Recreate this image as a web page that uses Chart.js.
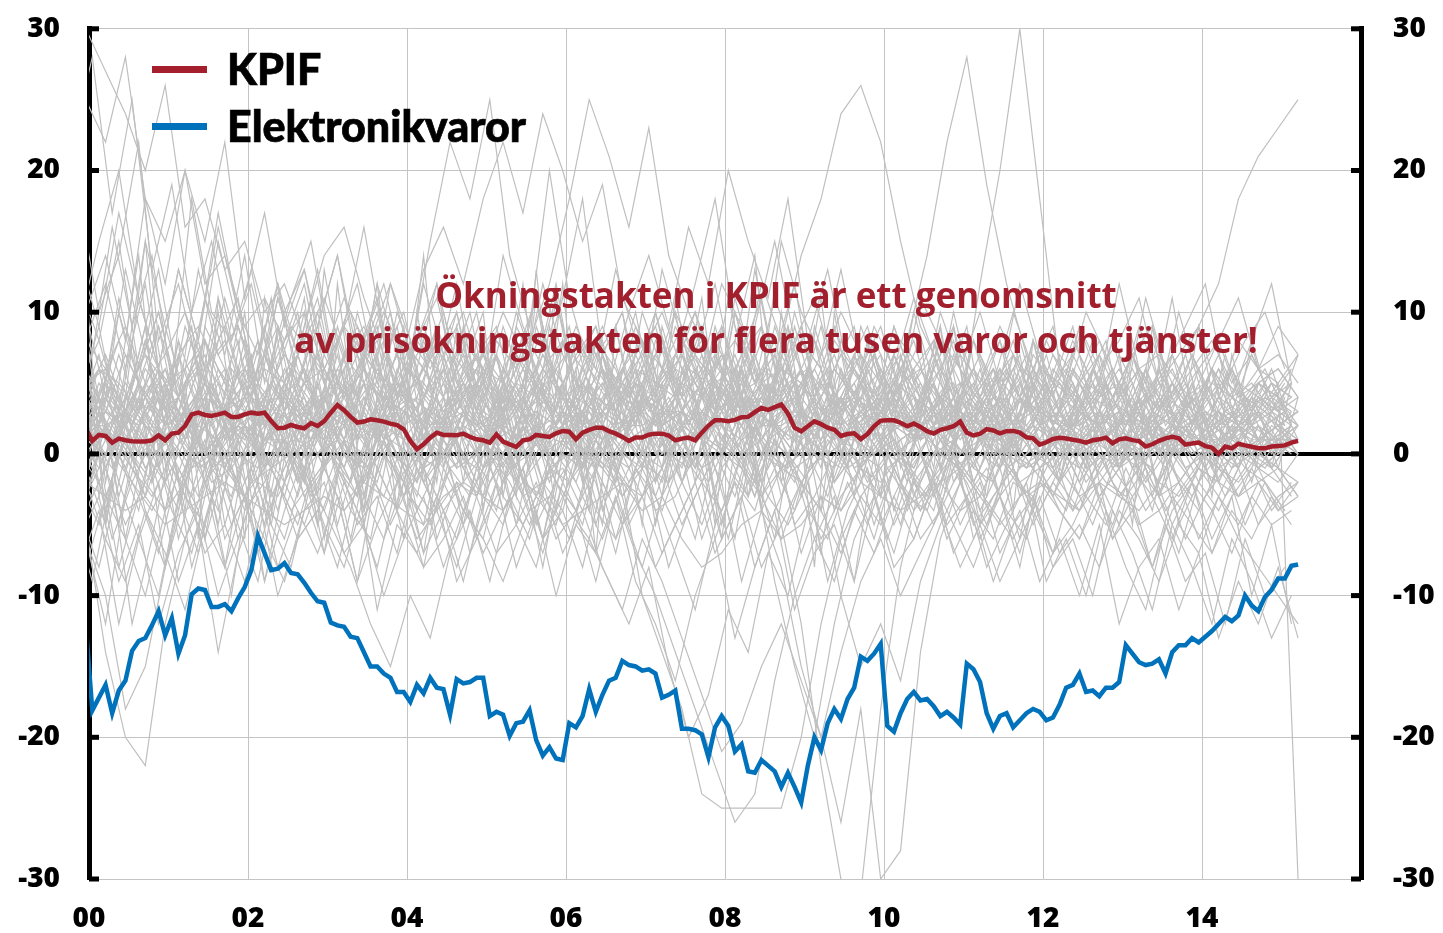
<!DOCTYPE html>
<html>
<head>
<meta charset="utf-8">
<script src="https://cdn.jsdelivr.net/npm/chart.js@4.4.1/dist/chart.umd.min.js"></script>
<style>
html,body{margin:0;padding:0;background:#fff;}
#wrap{position:relative;width:1443px;height:933px;overflow:hidden;}
#c{position:absolute;left:0;top:-20px;}
.sw{position:absolute;left:152px;width:55px;height:7px;}
.lt{position:absolute;left:227px;font-family:'Lato',sans-serif;font-weight:900;font-size:43px;line-height:43px;color:#000;white-space:nowrap;-webkit-text-stroke:0.7px #000;}
#note{position:absolute;left:276px;width:1000px;top:272px;text-align:center;font-family:'Open Sans',sans-serif;font-weight:bold;font-size:35px;line-height:45px;color:#A21F2D;white-space:nowrap;}
</style>
</head>
<body>
<div id="wrap">
<canvas id="c" width="1443" height="953"></canvas>
<div class="sw" style="top:66px;background:#A51E2B"></div><div class="lt" style="top:47px">KPIF</div>
<div class="sw" style="top:123px;background:#0072BC"></div><div class="lt" style="top:104px">Elektronikvaror</div>
<div id="note">Ökningstakten i KPIF är ett genomsnitt<br>av prisökningstakten för flera tusen varor och tjänster!</div>
</div>
<script>
// Monthly series, first value = Dec 1999, last = Mar 2015
const seriesStartMonth = -1;
const kpif = [1.8,
0.92,1.34,1.27,0.80,1.08,0.96,0.9,0.87,0.87,0.96,
1.31,0.96,1.43,1.50,1.97,2.79,2.91,2.75,2.68,2.79,
2.91,2.61,2.61,2.79,2.91,2.84,2.91,2.32,1.81,1.85,
2.04,1.90,1.81,2.18,1.97,2.32,2.91,3.45,3.08,2.61,
2.21,2.28,2.44,2.37,2.28,2.14,2.04,1.74,0.92,0.33,
0.68,1.15,1.50,1.34,1.34,1.31,1.43,1.20,1.03,0.96,
0.8,1.38,0.87,0.67,0.49,0.96,1.03,1.34,1.27,1.20,
1.45,1.62,1.57,1.03,1.50,1.7,1.85,1.85,1.6,1.43,
1.2,0.92,1.15,1.16,1.35,1.43,1.43,1.3,0.96,1.08,
1.15,0.96,1.5,2.0,2.37,2.37,2.3,2.4,2.58,2.61,
2.95,3.24,3.1,3.3,3.48,2.85,1.85,1.6,1.95,2.3,
2.1,1.85,1.7,1.27,1.4,1.45,1.05,1.4,1.95,2.35,
2.37,2.37,2.2,1.95,2.14,1.9,1.6,1.43,1.7,1.81,
1.95,2.28,1.5,1.3,1.42,1.75,1.65,1.45,1.6,1.62,
1.5,1.17,1.1,0.65,0.82,1.05,1.14,1.08,1.0,0.92,
0.8,0.96,1.03,1.15,0.75,1.03,1.1,0.97,0.9,0.52,
0.68,0.92,1.1,1.2,1.1,0.65,0.74,0.8,0.55,0.45,
0.0,0.52,0.4,0.72,0.6,0.5,0.4,0.4,0.52,0.56,
0.6,0.8,0.92];
const elektronik = [-12,
-18.1,-17.2,-16.3,-18.3,-16.7,-16.0,-13.9,-13.2,-13.0,-12.1,
-11.1,-12.8,-11.6,-14.1,-12.8,-9.9,-9.5,-9.6,-10.8,-10.8,
-10.6,-11.1,-10.2,-9.4,-8.2,-5.8,-7.0,-8.2,-8.1,-7.7,
-8.4,-8.5,-9.1,-9.8,-10.4,-10.5,-11.9,-12.1,-12.2,-12.9,
-13.0,-14.0,-15.0,-15.0,-15.5,-15.8,-16.8,-16.8,-17.5,-16.3,
-16.9,-15.8,-16.5,-16.6,-18.4,-15.9,-16.2,-16.1,-15.8,-15.8,
-18.5,-18.2,-18.4,-19.9,-19.0,-18.9,-18.1,-20.2,-21.3,-20.7,
-21.5,-21.6,-19.0,-19.3,-18.5,-16.6,-18.2,-17.0,-16.0,-15.8,
-14.6,-14.9,-15.0,-15.3,-15.2,-15.5,-17.2,-17.0,-16.7,-19.4,
-19.4,-19.5,-19.8,-21.4,-19.3,-18.5,-19.2,-21.0,-20.5,-22.4,
-22.5,-21.6,-22.0,-22.4,-23.5,-22.5,-23.5,-24.6,-22.0,-20.0,
-20.9,-19.0,-18.0,-18.7,-17.3,-16.5,-14.3,-14.6,-14.1,-13.4,
-19.2,-19.6,-18.3,-17.3,-16.8,-17.4,-17.3,-17.8,-18.5,-18.2,
-18.6,-19.1,-14.8,-15.2,-16.1,-18.3,-19.4,-18.5,-18.3,-19.3,
-18.8,-18.3,-18.0,-18.2,-18.8,-18.6,-17.7,-16.5,-16.3,-15.5,
-16.8,-16.7,-17.1,-16.5,-16.5,-16.1,-13.5,-14.1,-14.7,-14.9,
-14.8,-14.5,-15.5,-14.0,-13.5,-13.5,-13.0,-13.3,-12.9,-12.5,
-12.0,-11.5,-11.8,-11.4,-10.0,-10.7,-11.1,-10.1,-9.6,-8.8,
-8.8,-7.9,-7.8];

// Individual goods and services, sampled every third month
const greyStep = 3;
const greyStartA = -1; // Dec 1999
const greySeriesA = [
[3,1,4,2,0,3,5,2,1,4,2,3,0,2,4,1,3,2,5,1,2,0,3,4,1,2,3,1,4,2,3,5,2,4,1,3,2,0,2,3,1,2,4,1,3,2,0,1,3,2,1,2,0,3,1,2,1,0,2,3,1,2],
[-2,4,1,-3,5,0,2,-1,6,3,-2,1,4,0,-3,2,5,1,-1,3,0,4,-2,1,3,-1,2,0,5,1,-2,3,1,4,0,-1,2,6,1,-2,3,0,2,-1,4,1,-3,2,0,3,1,-1,2,4,0,1,-2,3,1,2,0,1],
[8,6,9,5,7,10,6,8,4,7,5,8,6,3,7,5,4,6,8,5,3,6,4,7,5,2,6,4,3,5,7,4,6,3,5,4,2,5,3,4,6,3,2,4,5,3,1,4,2,3,5,2,3,1,4,2,3,1,2,4,3,2],
[-4,-1,-5,-2,0,-3,-6,-1,-3,0,-2,-5,-1,-4,-2,1,-3,-1,-4,-2,0,-3,-5,-2,-1,-4,0,-2,-3,-1,-5,-2,-4,0,-3,-1,-2,-6,-3,-1,-2,0,-4,-2,-1,-3,0,-2,-4,-1,-3,-2,0,-1,-3,-2,-4,-1,-2,0,-1,-3],
[9,-2,6,12,3,-4,8,2,10,-1,5,11,0,7,-3,4,9,1,6,-2,8,3,12,0,5,-1,7,10,2,-3,6,1,9,4,-2,8,3,11,0,5,7,-1,4,9,2,6,0,8,3,-2,5,7,1,4,8,0,3,6,2,5,4,1],
[1,0,2,-1,1,3,0,-1,2,1,0,2,-1,1,0,3,1,-1,0,2,1,-2,0,1,2,0,-1,1,3,0,1,-1,2,0,1,-1,0,2,1,0,-1,1,2,0,-1,1,0,2,-1,0,1,0,-1,1,2,0,1,-1,0,1,2,0],
[6,3,7,4,2,5,8,4,3,6,5,2,7,4,6,3,5,8,4,2,6,5,3,7,4,5,2,6,8,3,5,4,7,3,5,6,2,4,7,5,3,6,4,2,5,3,6,4,3,5,2,4,6,3,5,4,2,3,5,4,3,4],
[-8,-3,-6,-10,-4,-2,-7,-5,-9,-3,-6,-1,-5,-8,-3,-6,-2,-7,-4,-9,-3,-5,-1,-6,-4,-8,-2,-5,-3,-7,-4,-1,-6,-3,-8,-5,-2,-4,-7,-3,-5,-2,-6,-4,-1,-5,-3,-7,-2,-4,-6,-3,-1,-5,-4,-2,-6,-3,-5,-2,-4,-3],
[12,-5,4,15,1,-3,9,6,-6,11,3,-2,13,5,-4,8,2,14,-1,6,10,-3,5,1,12,-2,7,3,-5,9,4,11,0,6,-4,10,2,-1,8,5,-3,7,1,9,-2,4,6,0,8,-1,5,3,7,-2,6,1,9,2,-1,5,3,7],
[2,2,3,2,1,2,3,3,2,1,1,2,2,3,2,2,1,1,2,3,2,2,1,2,3,2,1,2,2,3,3,2,2,1,2,2,3,2,1,1,2,2,1,2,2,1,1,2,1,1,0,1,1,2,1,0,1,1,2,1,1,1],
[25,22,28,18,15,20,12,14,9,11,8,10,6,9,7,5,8,6,4,7,5,3,6,4,2,5,3,4,6,2,3,5,1,4,2,3,5,2,1,3,4,2,3,1,2,4,2,1,3,2,1,3,2,0,2,1,3,1,2,0,1,2],
[30,27,24,20,26,16,18,13,15,10,12,8,11,7,9,5,8,6,10,4,7,5,3,6,8,4,2,5,3,6,4,2,5,3,1,4,6,2,3,5,1,4,2,3,0,2,4,1,3,2,4,1,2,3,0,2,1,3,2,1,2,3],
[-6,-12,-3,2,-8,-1,4,-5,0,-9,-2,3,-6,1,-4,5,-1,-7,2,0,-3,4,-2,-6,1,3,-4,0,-1,5,-2,2,-5,0,3,-3,1,-7,2,-1,4,-2,0,-4,2,-1,3,-3,0,1,-2,2,-1,3,-3,0,2,-2,1,-1,0,2],
[1,6,3,8,2,5,7,1,4,9,3,6,2,7,5,1,8,4,2,6,7,3,5,9,2,4,6,1,5,8,3,7,4,2,6,5,9,3,4,7,2,5,6,3,8,4,2,6,5,3,7,4,5,2,6,3,4,7,3,5,6,4],
[0,2,-1,3,1,-2,2,0,-3,1,2,-1,3,0,-2,1,2,-1,0,3,1,-2,2,0,1,-1,3,2,-1,0,2,1,-2,3,0,-5,-12,-22,-30,-31,-18,-8,-2,1,0,2,-1,1,3,0,-1,2,1,0,-2,1,3,0,2,-1,1,0],
[3,5,2,6,4,1,5,3,7,2,4,6,3,1,5,8,2,4,6,3,5,2,7,4,1,6,3,5,8,2,4,6,3,5,2,7,4,9,3,5,2,6,4,8,3,12,20,30,18,6,3,5,2,6,4,1,3,5,2,4,3,2],
[2,4,1,3,5,2,0,3,4,1,2,5,3,0,2,4,1,3,2,5,1,3,0,2,4,1,3,5,2,0,3,1,4,2,5,3,1,2,4,0,3,2,1,4,2,3,0,1,3,2,4,1,2,5,3,6,9,12,18,21,23,25],
[1,3,2,4,1,2,5,3,0,2,4,1,3,2,5,0,2,3,1,4,2,0,3,1,2,4,1,3,0,2,3,1,4,2,0,3,2,1,4,2,0,3,1,2,4,1,3,0,2,1,3,2,0,1,2,3,1,4,2,3,5,-30],
[-3,2,-6,1,-4,3,-2,-8,0,-5,2,-3,-7,1,-4,0,-6,2,-2,-5,1,-4,-1,-8,0,-3,-6,-2,-10,-14,-18,-24,-25,-25,-25,-25,-20,-12,-6,-3,-1,-5,0,-3,2,-4,-1,-6,1,-2,-4,0,-3,-1,2,-5,-2,0,-3,-1,-4,-2],
[-5,-14,-20,-22,-12,-6,-2,1,3,-1,2,4,0,3,-2,1,5,2,0,3,-1,2,4,1,-2,3,0,2,5,1,-1,3,2,0,4,1,-3,2,0,3,1,-2,2,4,0,1,3,-1,2,0,3,1,-1,2,0,3,1,2,0,1,2,0],
[4,7,3,8,5,2,6,9,4,7,3,5,8,4,6,10,7,13,16,12,18,22,17,24,20,15,19,11,8,6,9,5,7,4,8,3,6,2,5,7,4,6,3,8,5,2,6,4,7,3,5,2,4,6,3,5,2,4,3,5,4,3],
[2,5,3,1,4,6,2,3,5,1,4,2,6,3,1,5,2,4,7,3,1,5,2,6,4,3,7,2,5,8,4,6,9,5,12,8,14,18,24,26,22,15,9,6,4,7,3,5,2,6,4,1,5,3,2,4,6,2,3,1,4,2],
[-2,-6,-9,-4,-7,-11,-5,-8,-3,-6,-9,-4,-2,-7,-5,-10,-6,-3,-8,-4,-6,-9,-5,-2,-7,-4,-8,-11,-6,-9,-13,-17,-21,-19,-15,-12,-16,-20,-14,-9,-6,-10,-7,-4,-8,-5,-9,-6,-3,-7,-5,-8,-4,-6,-9,-5,-7,-3,-6,-8,-10,-12],
[10,4,13,7,2,9,5,11,6,3,8,12,5,9,2,7,10,4,8,6,3,9,5,12,7,4,8,2,10,6,5,9,3,7,11,4,8,6,2,9,5,7,3,10,6,4,8,2,6,5,3,7,4,9,5,2,6,8,4,6,5,7],
[2,-1,3,0,-2,1,4,-1,2,0,-3,2,1,-1,3,0,-2,2,4,-1,1,3,-2,0,2,-1,1,3,0,-2,2,4,0,-1,3,1,-2,0,2,-1,1,3,0,-2,2,1,-1,3,0,2,-1,1,2,0,-2,1,3,0,-1,2,1,0],
[1,3,2,4,6,3,5,2,4,7,3,9,14,16,11,7,4,2,5,3,6,4,2,5,3,1,4,6,3,2,5,3,4,6,2,5,3,1,4,2,6,3,5,2,4,3,1,5,2,4,3,2,4,1,3,5,2,3,1,4,2,3],
[-1,-5,2,-4,-8,-2,1,-6,-3,-9,-4,0,-7,-2,-5,1,-3,-8,-1,-4,-6,0,-3,-7,-2,-5,1,-4,-8,-3,0,-6,-2,-9,-4,-1,-7,-3,-10,-15,-12,-16,-9,-5,-2,-6,-3,-8,-1,-4,-6,-2,-5,0,-3,-7,-2,-4,-1,-5,-3,-2],
[3,4,2,5,3,1,4,6,3,2,5,3,4,2,6,4,3,1,3,5,2,4,3,6,4,2,3,5,4,2,3,5,2,4,3,6,5,3,2,4,3,1,2,4,3,2,4,1,3,2,2,3,1,2,4,2,1,3,2,1,2,3],
[7,-4,3,9,-2,5,-6,2,8,-3,4,10,-1,6,-5,3,7,-2,1,9,-4,5,2,-3,8,0,-5,6,3,-1,7,2,-6,4,9,-2,3,-4,6,1,-3,5,8,-1,2,-5,4,7,0,-2,3,6,-1,4,-3,2,5,-2,1,3,-1,4],
[5,6,4,7,5,6,8,5,6,4,7,5,6,3,5,4,6,5,3,4,5,3,4,2,4,3,5,2,3,4,2,3,5,3,4,6,5,3,4,2,3,4,2,3,1,3,2,4,2,3,1,2,3,2,1,3,2,1,2,3,2,1],
[0,-3,1,-2,-4,0,-1,2,-3,-1,1,-2,-4,0,-1,-3,1,-2,0,-4,-1,1,-3,-2,0,-1,2,-3,-1,-4,0,-2,1,-1,-3,0,-2,-4,1,-1,-3,0,-2,1,-1,-3,0,-2,-1,1,-2,0,-3,-1,1,-2,0,-1,-3,0,-1,-2],
[8,12,6,15,9,4,11,7,14,5,10,13,6,9,16,8,4,12,7,10,5,14,9,6,11,18,7,10,4,13,8,6,12,9,5,15,10,7,13,6,9,4,11,8,6,10,5,12,7,4,9,6,8,11,5,7,9,4,8,6,7,5],
[-1,2,0,-3,1,3,-2,0,2,-1,1,-2,3,0,-1,2,-3,1,0,2,-1,0,3,-2,1,-1,2,0,-3,1,2,-1,0,3,-4,-8,-15,-20,-26,-18,-30,-28,-14,-6,-2,0,-1,2,1,-2,0,3,-1,1,2,-2,0,1,-1,2,0,1],
[3,1,4,2,0,3,5,1,2,4,0,3,2,5,1,-2,-5,-8,-6,-3,-7,-4,-1,-6,-3,0,2,-2,1,3,0,4,2,5,1,3,6,2,4,1,3,5,2,0,4,2,1,3,5,2,0,3,1,4,2,0,3,1,2,0,1,2],
[-2,-3,-4,-3,-5,-4,-3,-2,-3,-4,-5,-4,-3,-4,-2,-3,-4,-5,-3,-2,-3,-4,-2,-3,-5,-4,-3,-2,-4,-3,-6,-8,-7,-5,-4,-6,-5,-3,-4,-2,-3,-4,-3,-2,-4,-3,-5,-3,-2,-3,-4,-2,-3,-4,-2,-3,-1,-2,-3,-2,-1,-3],
[4,2,5,3,6,1,4,3,5,2,6,3,4,1,5,2,4,6,3,5,2,4,7,3,5,2,6,4,3,5,7,4,2,6,3,5,4,2,6,3,5,2,4,6,3,5,8,4,6,3,9,5,12,6,4,10,5,8,11,6,9,7],
[2,0,3,-1,1,4,0,2,-2,1,3,0,2,-1,4,1,-2,2,0,3,1,-1,2,0,3,-2,1,2,0,-1,3,1,0,2,-2,1,3,0,-1,2,0,1,-3,-1,-5,-2,-7,-4,-9,-6,-10,-5,-12,-8,-6,-11,-7,-13,-9,-12,-8,-13],
[10,14,8,18,12,20,15,22,11,17,9,13,7,11,8,12,6,9,5,8,6,10,7,4,8,6,9,5,7,10,6,8,4,7,9,5,8,6,10,7,5,8,6,4,7,5,9,6,3,7,5,8,4,6,7,5,3,6,4,5,6,4],
[-6,-10,-18,-15,-8,-3,-5,0,-4,-2,1,-3,-1,2,-4,0,-2,-5,1,-1,-3,0,2,-2,-4,1,-1,-3,0,2,-2,-5,-1,1,-3,-6,-2,0,-4,-1,1,-2,-4,0,-1,2,-3,-1,0,-2,1,-3,-1,0,-2,1,-1,-3,0,-1,-2,0],
[2,3,1,4,2,3,0,2,3,1,4,2,1,3,2,4,3,1,2,0,3,2,4,1,2,3,1,2,4,3,2,1,3,2,4,1,3,2,1,3,2,4,1,2,3,1,2,0,2,3,1,2,3,1,2,0,1,2,3,1,2,1]
];
const greyStartB = -2; // Nov 1999
const greySeriesB = [
[5,2,7,3,9,4,1,6,3,8,2,5,10,4,7,1,6,3,9,5,2,7,4,1,6,8,3,5,2,7,4,9,3,6,1,5,8,2,4,7,3,6,1,5,2,8,4,3,6,2,5,1,4,7,3,2,5,1,4,3,6,2],
[-3,1,-5,2,-1,-4,3,0,-2,-6,1,-3,2,-5,0,-2,3,-4,-1,1,-3,0,-5,2,-2,-4,1,-1,-3,3,-2,-6,0,-3,2,-1,-4,1,-2,0,-5,-1,2,-3,0,-2,-4,1,-1,-3,0,2,-2,-4,1,-1,-3,0,-2,1,-1,-3],
[12,8,15,6,10,4,13,7,9,5,11,6,3,8,12,5,9,2,7,10,4,8,6,11,3,7,9,5,2,8,6,10,4,7,3,9,5,8,2,6,4,7,3,5,8,2,6,4,3,7,5,2,4,6,3,5,2,4,6,3,5,4],
[0,3,-2,4,1,-3,2,5,0,-1,3,-2,1,4,-1,2,0,-3,3,1,-2,4,0,2,-1,3,1,-2,4,0,2,-1,5,1,-3,2,0,4,-2,1,3,0,-1,2,4,-2,1,3,0,-1,2,4,-1,1,3,0,-2,2,1,3,0,2],
[4,9,2,7,13,5,1,8,11,3,6,10,2,9,4,12,7,1,5,10,3,8,6,1,11,4,7,9,2,6,10,3,8,5,1,7,12,4,6,9,2,5,8,3,10,4,6,1,7,5,9,3,6,2,8,4,1,6,3,7,4,5],
[-8,-4,-12,-6,-2,-9,-5,-14,-7,-3,-10,-6,-4,-8,-2,-11,-5,-7,-3,-9,-6,-2,-8,-4,-10,-5,-7,-3,-9,-12,-16,-10,-6,-13,-8,-4,-11,-7,-5,-9,-3,-8,-6,-2,-7,-4,-9,-5,-3,-8,-6,-10,-4,-7,-11,-5,-8,-12,-6,-9,-13,-10],
[2,1,3,2,4,3,2,1,2,3,4,3,2,3,1,2,3,4,2,3,2,1,2,3,2,4,3,2,3,2,4,5,3,4,3,2,3,2,1,2,3,2,1,2,3,2,1,1,2,1,2,1,0,1,2,1,0,1,1,0,1,1],
[18,10,14,22,8,12,6,15,9,4,11,7,13,5,8,3,10,6,12,4,7,9,3,6,11,5,8,2,7,4,9,6,3,10,5,7,2,8,4,6,3,9,5,2,7,4,6,3,8,5,2,6,4,7,3,5,2,6,4,5,3,4],
[-1,4,-3,2,6,-2,1,-5,3,0,-4,2,5,-1,-3,4,1,-2,6,0,-3,3,-1,5,-4,2,0,-2,4,-5,1,3,-3,6,-1,-6,2,4,-2,0,3,-4,1,5,-2,0,3,-1,-4,2,4,-2,0,3,-3,1,5,-1,2,-2,3,1],
[6,4,8,5,3,7,9,6,4,8,5,7,3,6,9,4,7,5,8,3,6,4,7,5,3,8,6,4,9,5,7,10,6,8,5,7,4,6,3,5,7,4,6,3,5,2,4,6,3,5,4,2,5,3,4,6,3,5,4,2,4,3],
[-4,-8,-2,-6,-10,-3,-7,-1,-5,-9,-2,-6,-4,0,-5,-3,-7,-1,-4,-2,-6,-3,0,-5,-2,-4,-1,-6,-3,-8,-5,-2,-7,-4,-1,-9,-15,-20,-12,-6,-3,-7,-2,-5,-1,-4,-6,-2,-3,0,-4,-2,-5,-1,-3,-6,-2,-4,-7,-3,-5,-4],
[1,5,3,0,4,2,6,1,3,5,0,4,2,7,1,3,5,2,0,4,6,1,3,5,2,4,0,3,6,2,4,1,5,3,7,2,4,0,3,5,1,4,2,6,3,0,4,2,5,1,3,6,2,4,1,5,3,0,2,4,1,3],
[9,15,20,11,6,13,8,17,10,5,12,7,9,14,6,10,4,8,11,5,7,3,9,6,12,4,8,5,10,3,7,12,18,9,5,11,7,4,8,6,3,9,5,7,2,6,4,8,3,5,7,4,6,2,5,3,7,4,6,3,5,4],
[0,-2,1,-1,2,0,-3,1,-1,0,2,-2,0,1,-1,3,0,-2,1,-1,0,2,-1,-3,1,0,-1,2,0,-2,1,-1,3,0,-2,1,-1,0,2,-1,0,1,-2,0,1,-1,2,0,-1,1,0,-2,1,0,-1,2,0,1,-1,0,1,0],
[3,7,1,5,9,2,6,4,8,0,5,3,7,1,6,9,2,4,8,3,5,0,7,4,2,6,9,3,5,1,7,4,8,2,6,3,10,5,1,7,4,2,6,8,3,5,1,7,4,2,6,3,8,5,1,4,7,3,6,2,5,4],
[-5,0,-8,-3,2,-6,-1,-4,1,-7,-2,-5,0,-3,-9,-1,-4,2,-6,-2,-3,1,-5,-8,-2,0,-4,-6,-1,-3,-7,-11,-5,-2,-8,-4,-1,-6,-3,-9,0,-5,-2,-4,1,-6,-3,-1,-5,-2,-4,0,-6,-3,-1,-5,-2,-7,-3,-1,-4,-2],
[2,6,4,1,5,3,8,2,6,4,1,7,3,5,2,6,4,9,3,1,5,7,2,4,6,3,8,1,5,3,6,2,9,4,7,3,5,1,6,4,2,7,3,5,1,4,6,2,8,3,5,1,4,7,2,5,3,6,1,4,3,5],
[7,3,10,5,2,8,4,11,6,1,9,4,7,2,10,5,3,8,6,12,4,7,1,9,5,3,8,6,2,10,5,7,3,11,6,2,9,4,7,3,8,5,1,6,9,3,5,7,2,6,4,8,3,5,1,7,4,2,6,3,5,2],
[-2,2,0,-4,3,1,-1,4,-3,0,2,-2,5,0,-3,1,3,-1,-4,2,0,4,-2,1,-1,3,-5,0,2,-3,1,4,-1,-6,2,0,-2,3,-4,1,0,2,-3,1,4,-1,-2,2,0,-3,1,3,-1,0,-4,2,1,-2,3,0,-1,1],
[4,6,5,3,6,4,7,5,3,6,4,5,3,6,4,2,5,3,6,4,5,3,4,6,2,5,4,3,6,5,4,7,5,6,4,3,5,4,2,4,3,5,4,2,3,4,2,3,5,3,2,4,3,1,3,2,4,2,3,2,3,2],
[10,-3,5,14,0,8,-6,11,3,-2,9,4,-5,12,1,7,-4,10,2,-1,8,5,-3,13,0,6,-7,9,3,-2,11,4,-5,8,14,0,6,-8,10,2,-3,7,4,-1,9,0,5,-4,8,2,-2,6,3,-5,9,1,4,-3,7,2,-1,5],
[1,2,0,3,1,2,4,1,2,0,3,1,2,4,2,1,3,0,2,1,3,2,1,2,0,3,2,1,4,2,3,1,2,0,3,2,1,2,3,1,0,2,1,3,1,2,0,1,2,1,3,1,2,0,1,2,1,0,2,1,1,2],
[-6,-3,-9,-5,-12,-7,-4,-10,-6,-2,-8,-4,-7,-3,-9,-5,-2,-6,-4,-8,-3,-7,-5,-2,-6,-4,-9,-3,-7,-10,-14,-18,-22,-26,-24,-16,-10,-6,-9,-4,-7,-3,-6,-2,-5,-8,-4,-6,-3,-7,-5,-2,-6,-4,-8,-3,-5,-7,-4,-6,-3,-5],
[5,8,3,6,10,4,7,2,9,5,3,7,11,4,6,8,2,5,9,3,7,4,10,6,2,8,5,3,7,9,4,6,2,10,5,8,3,6,9,4,7,2,5,8,4,6,3,7,5,2,6,4,8,3,5,7,2,6,4,8,3,5],
[0,3,1,-1,2,4,0,1,-2,3,1,-1,2,0,3,1,-2,2,4,0,-1,2,1,3,0,-2,2,1,-1,3,0,2,4,1,-1,2,0,3,1,-2,2,0,1,3,-1,0,2,1,-1,2,0,1,3,-1,2,0,1,-2,1,0,2,1],
[14,9,17,11,6,13,8,16,10,7,12,5,9,14,7,11,4,8,12,6,10,3,7,11,5,9,6,13,8,4,10,7,12,5,9,15,8,11,6,4,9,6,11,7,3,8,5,10,6,4,8,5,3,7,9,4,6,8,5,7,4,6],
[-2,-5,0,-3,-7,-1,-4,1,-6,-2,-3,0,-5,-1,-4,-8,-2,0,-3,-6,-1,-4,2,-3,-5,0,-2,-7,-1,-4,-3,0,-6,-2,-4,1,-5,-3,0,-2,-6,-1,-4,-2,0,-5,-3,-1,-4,-7,-2,-5,-1,-3,-8,-4,-2,-6,-3,-10,-5,-12],
[3,4,2,5,3,4,6,3,4,2,5,3,4,5,3,2,4,5,3,4,2,3,5,4,3,2,4,3,5,4,6,5,7,4,5,3,4,2,3,4,3,2,4,3,2,3,4,2,3,1,2,3,2,1,2,3,1,2,1,2,1,2],
[8,2,11,5,-1,7,3,10,0,6,9,2,-3,8,4,12,1,6,-2,9,3,7,0,11,5,-1,8,2,6,10,4,-2,7,3,13,6,0,9,4,-3,7,2,10,5,1,8,3,-1,6,9,2,5,0,7,4,11,3,6,1,8,12,5],
[1,-1,2,0,1,3,-1,0,2,1,-2,1,0,2,-1,1,3,0,-1,2,1,0,-2,1,2,0,1,-1,3,0,2,-1,1,0,-3,2,1,0,-1,2,0,1,-1,2,0,-2,1,0,2,-1,1,0,2,-1,0,1,-2,1,0,2,-1,1]
];
const greyStartC = -3; // Oct 1999
const greySeriesC = [
[2,5,1,4,3,6,2,5,1,4,3,6,2,5,4,8,12,7,15,22,18,25,14,9,20,11,6,4,7,3,5,2,6,4,3,5,2,6,3,4,2,5,3,1,4,2,5,3,2,4,1,3,5,2,4,3,1,4,2,3,5,2],
[1,3,0,4,2,1,3,5,2,0,4,2,1,3,5,2,4,1,3,2,5,3,1,4,6,3,8,5,10,14,9,16,12,20,15,11,18,8,13,6,9,4,7,3,5,2,4,1,3,5,2,4,1,3,2,4,3,1,2,4,3,2],
[3,1,4,2,5,3,1,4,2,3,5,2,4,1,3,5,2,4,3,1,4,2,5,3,1,4,2,3,5,2,4,1,3,5,2,4,3,6,2,5,3,4,8,14,22,28,19,12,7,4,6,3,5,2,4,6,3,5,2,4,3,5],
[-1,-3,0,-2,-4,-1,-3,0,-5,-2,-1,-4,-2,0,-3,-1,-5,-2,-4,-1,-3,0,-2,-5,-1,-4,-6,-9,-12,-8,-15,-20,-17,-11,-14,-7,-10,-4,-6,-2,-5,-1,-3,-4,0,-2,-5,-1,-3,-2,-4,0,-2,-3,-1,-4,-2,0,-3,-1,-2,-4],
[2,4,1,3,5,2,0,3,1,4,2,3,1,5,2,0,3,4,1,2,3,1,4,2,0,3,5,1,2,4,3,1,2,4,0,3,1,2,5,3,1,4,2,3,0,2,4,6,3,8,5,10,7,4,11,6,9,12,5,8,10,6],
[1,-1,2,0,-2,1,3,-1,0,2,-1,1,3,0,-2,2,0,-1,1,3,0,-2,1,2,-1,0,3,1,-2,0,2,-1,1,0,-3,1,2,-1,0,1,-2,0,-4,-1,-6,-3,-8,-5,-2,-9,-6,-10,-4,-8,-11,-5,-9,-7,-12,-6,-10,-8],
[12,7,16,9,14,5,18,10,8,13,6,11,15,7,10,4,12,8,6,9,5,8,4,7,3,6,8,5,4,7,3,6,5,4,7,3,5,6,4,2,5,3,6,4,2,5,3,4,6,3,2,5,4,3,6,2,4,5,3,4,2,3],
[-4,-9,-2,-12,-6,1,-8,-3,-10,-1,-5,2,-3,0,-6,1,3,-2,0,4,-1,2,0,3,-2,1,4,0,-1,2,3,0,-2,1,4,-1,2,0,-3,1,3,-1,0,2,-2,1,3,0,-1,2,1,-2,0,3,1,-1,2,0,1,-1,2,0],
[9,1,7,3,10,2,8,0,6,4,11,2,7,5,1,9,3,8,0,6,10,3,7,1,5,9,2,6,4,8,1,7,3,11,5,2,9,4,6,1,8,3,7,2,5,9,1,6,3,7,2,5,8,1,6,3,7,2,5,4,6,3],
[0,1,-1,2,0,1,-1,0,2,1,-1,0,1,2,0,-1,1,0,2,-1,0,1,-1,0,2,1,0,-1,1,2,0,-1,1,0,2,0,-1,1,0,1,2,0,-1,1,0,2,1,-1,0,1,0,2,-1,1,0,1,-1,0,1,0,1,0],
[22,28,17,25,13,19,10,15,8,12,6,9,7,4,8,5,3,6,4,7,2,5,3,6,4,1,5,3,2,4,6,3,1,4,2,5,3,1,4,2,3,5,2,4,1,3,2,4,1,3,2,1,3,2,4,1,2,3,1,2,3,1],
[0,-2,1,-1,-3,0,2,-2,-1,1,-3,0,-2,-5,-8,-12,-15,-10,-13,-7,-4,-9,-3,-6,-1,-2,0,-3,1,-1,-2,0,2,-1,-3,1,0,-2,1,-1,0,2,-1,-3,1,0,-2,1,-1,0,2,-1,0,1,-2,0,1,-1,2,0,-1,1],
[4,1,5,2,6,3,0,4,2,5,1,6,3,2,5,0,4,6,2,3,5,1,4,2,6,3,1,5,3,4,6,2,5,1,4,3,6,2,0,4,3,5,1,4,2,5,3,0,4,2,5,3,1,4,2,3,5,1,3,2,4,3],
[-5,0,-6,-2,1,-4,-7,-1,-3,2,-5,-8,-2,0,-4,-6,1,-3,-5,-1,-7,-2,0,-4,-3,-6,-1,1,-5,-2,-8,-4,-1,-6,0,-3,-5,-2,-9,-4,-1,-6,-2,0,-5,-3,-1,-4,-6,-2,0,-3,-5,-1,-4,-2,-6,-3,-1,-5,-2,-4],
[3,2,5,1,4,3,6,2,4,1,5,3,2,6,4,1,5,3,2,4,6,3,5,8,12,18,25,21,16,23,14,10,7,5,3,6,4,2,5,3,1,4,2,5,3,1,4,2,3,5,2,4,1,3,2,4,1,3,2,4,2,3],
[-3,6,0,8,-2,5,9,-1,4,7,-4,3,8,1,-2,6,10,2,-3,5,7,0,4,-1,9,3,-4,6,2,8,-2,5,1,7,-3,4,9,0,3,-1,6,2,-2,5,8,1,-3,4,7,0,3,-1,5,2,6,-2,4,1,7,3,0,4]
];

const yTicks = [-30, -20, -10, 0, 10, 20, 30];
const xTickYears = [2000, 2002, 2004, 2006, 2008, 2010, 2012, 2014];

const COLORS = { kpif: '#A51E2B', elek: '#0072BC', grey: '#BFBFBF', grid: '#C4C4C4' };

function monthX(m) { return 2000 + (m + 0.5) / 12; }

const datasets = [
  { label: 'KPIF', data: kpif.map((v, j) => ({ x: monthX(seriesStartMonth + j), y: v })),
    borderColor: COLORS.kpif, borderWidth: 4.5, order: 0 },
  { label: 'Elektronikvaror', data: elektronik.map((v, j) => ({ x: monthX(seriesStartMonth + j), y: v })),
    borderColor: COLORS.elek, borderWidth: 4.5, order: 1 }
];
function addGrey(list, start) {
  list.forEach((s) => {
    datasets.push({
      label: 'Vara',
      data: s.map((v, k) => ({ x: monthX(start + greyStep * k), y: v })),
      borderColor: COLORS.grey, borderWidth: 1.2, order: 2
    });
  });
}
addGrey(greySeriesA, greyStartA);
addGrey(greySeriesB, greyStartB);
addGrey(greySeriesC, greyStartC);

const inwardTicks = {
  id: 'inwardTicks',
  afterDraw(chart) {
    const { ctx, chartArea: a } = chart;
    const ys = chart.scales.y;
    ctx.save();
    ctx.fillStyle = '#000';
    yTicks.forEach(v => {
      const p = ys.getPixelForValue(v);
      ctx.fillRect(a.left, p - 2.5, 10, 5);
      ctx.fillRect(a.right - 10, p - 2.5, 10, 5);
    });
    ctx.restore();
  }
};

Chart.defaults.font.family = "'Open Sans', sans-serif";
const tickFont = { family: "'Open Sans', sans-serif", size: 28, weight: '800' };

new Chart(document.getElementById('c'), {
  type: 'line',
  data: { datasets },
  options: {
    responsive: false,
    animation: false,
    devicePixelRatio: 1,
    layout: { padding: { top: 7, left: 0, right: 0, bottom: 0 } },
    elements: { point: { radius: 0 }, line: { tension: 0 } },
    datasets: { line: { clip: 0 } },
    plugins: { legend: { display: false }, tooltip: { enabled: false } },
    scales: {
      x: {
        type: 'linear', min: 2000, max: 2016,
        afterBuildTicks: s => { s.ticks = xTickYears.concat([2016]).map(v => ({ value: v })); },
        afterFit: s => { s.height = 54; },
        ticks: { font: tickFont, color: '#000', padding: 23, maxRotation: 0,
          callback: v => xTickYears.includes(v) ? String(v % 100).padStart(2, '0') : '' },
        grid: { drawTicks: false, color: c => (c.tick && (c.tick.value === 2000 || c.tick.value === 2016)) ? 'rgba(0,0,0,0)' : COLORS.grid, lineWidth: 1 },
        border: { display: false }
      },
      y: {
        position: 'left', min: -30, max: 30,
        afterBuildTicks: s => { s.ticks = yTicks.map(v => ({ value: v })); },
        afterFit: s => { s.width = 89; },
        ticks: { font: tickFont, color: '#000', padding: 29 },
        grid: { drawTicks: false, color: c => c.tick && c.tick.value === 0 ? '#000' : COLORS.grid,
                lineWidth: c => c.tick && c.tick.value === 0 ? 4 : 1 },
        border: { display: true, color: '#000', width: 5 }
      },
      y2: {
        position: 'right', min: -30, max: 30,
        afterBuildTicks: s => { s.ticks = yTicks.map(v => ({ value: v })); },
        afterFit: s => { s.width = 82; },
        ticks: { font: tickFont, color: '#000', padding: 32 },
        grid: { display: false, drawTicks: false },
        border: { display: true, color: '#000', width: 5 }
      }
    }
  },
  plugins: [inwardTicks]
});
</script>
</body>
</html>
